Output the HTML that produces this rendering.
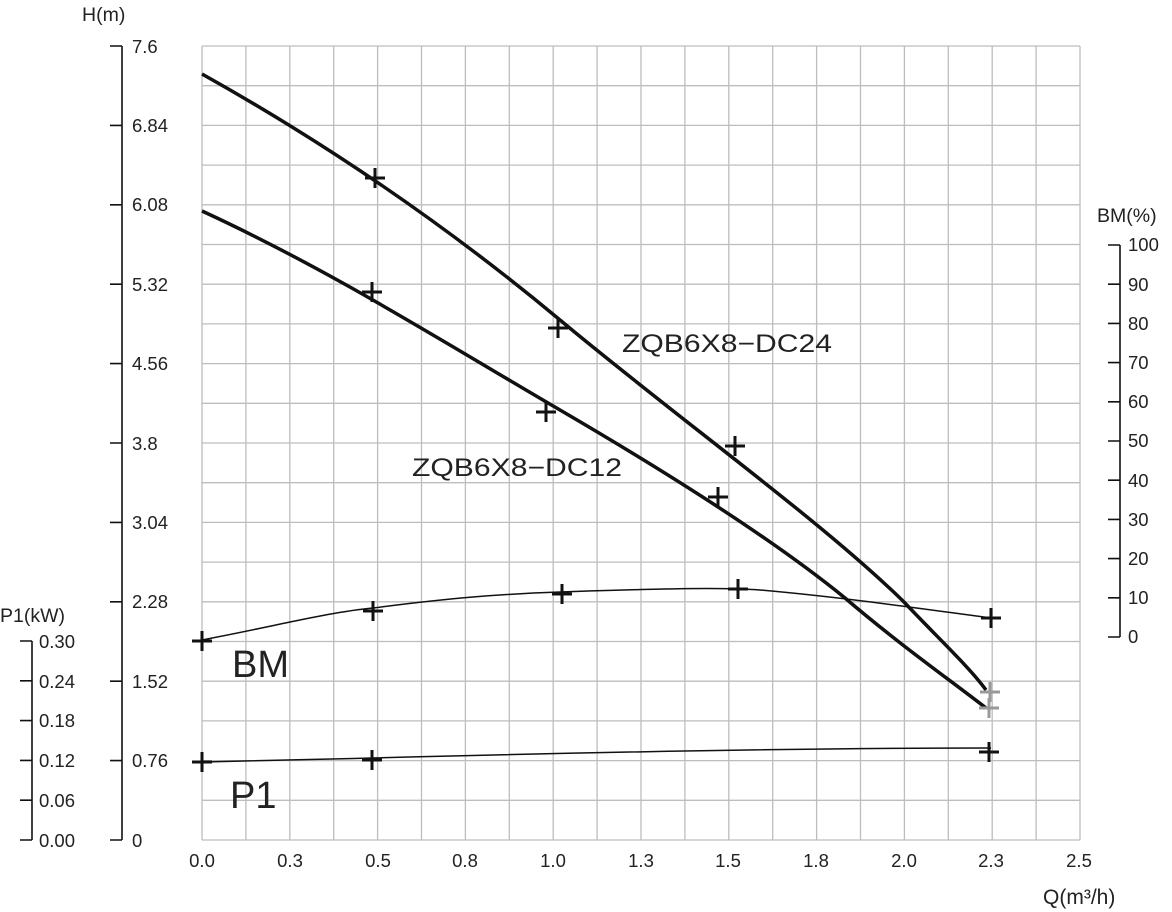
<!DOCTYPE html>
<html><head><meta charset="utf-8"><style>body{margin:0;background:#fff}svg{display:block}text{font-family:"Liberation Sans",sans-serif;fill:#222;font-size:18.5px}</style></head><body>
<svg width="1172" height="912" viewBox="0 0 1172 912">
<g stroke="#bdbdbd" stroke-width="1.3">
<path d="M202 46V840M245.9 46V840M289.8 46V840M333.7 46V840M377.6 46V840M421.5 46V840M465.4 46V840M509.3 46V840M553.2 46V840M597.1 46V840M641 46V840M684.9 46V840M728.8 46V840M772.7 46V840M816.6 46V840M860.5 46V840M904.4 46V840M948.3 46V840M992.2 46V840M1036.1 46V840M1080 46V840"/>
<path d="M202 46H1080M202 85.7H1080M202 125.4H1080M202 165.1H1080M202 204.8H1080M202 244.5H1080M202 284.2H1080M202 323.9H1080M202 363.6H1080M202 403.3H1080M202 443H1080M202 482.7H1080M202 522.4H1080M202 562.1H1080M202 601.8H1080M202 641.5H1080M202 681.2H1080M202 720.9H1080M202 760.6H1080M202 800.3H1080M202 840H1080"/>
</g>
<g stroke="#111" stroke-width="1.6" fill="none">
<path d="M122 46V840"/>
<path d="M110 46H122M110 125.4H122M110 204.8H122M110 284.2H122M110 363.6H122M110 443H122M110 522.4H122M110 601.8H122M110 681.2H122M110 760.6H122M110 840H122"/>
<path d="M32 641V840"/>
<path d="M20 641H32M20 680.8H32M20 720.6H32M20 760.4H32M20 800.2H32M20 840H32"/>
<path d="M1120 245V637"/>
<path d="M1108 245H1120M1108 284.2H1120M1108 323.4H1120M1108 362.6H1120M1108 401.8H1120M1108 441H1120M1108 480.2H1120M1108 519.4H1120M1108 558.6H1120M1108 597.8H1120M1108 637H1120"/>
</g>
<text x="132" y="53">7.6</text><text x="132" y="132">6.84</text><text x="132" y="211">6.08</text><text x="132" y="291">5.32</text><text x="132" y="370">4.56</text><text x="132" y="450">3.8</text><text x="132" y="529">3.04</text><text x="132" y="608">2.28</text><text x="132" y="688">1.52</text><text x="132" y="767">0.76</text><text x="132" y="847">0</text>
<text x="82" y="21" style="font-size:19.5px">H(m)</text>
<text x="0" y="622" style="font-size:19.5px">P1(kW)</text>
<text x="39" y="648">0.30</text><text x="39" y="688">0.24</text><text x="39" y="727">0.18</text><text x="39" y="767">0.12</text><text x="39" y="807">0.06</text><text x="39" y="847">0.00</text>
<text x="1097" y="222" style="font-size:19.5px">BM(%)</text>
<text x="1128" y="251">100</text><text x="1128" y="291">90</text><text x="1128" y="330">80</text><text x="1128" y="369">70</text><text x="1128" y="408">60</text><text x="1128" y="447">50</text><text x="1128" y="487">40</text><text x="1128" y="526">30</text><text x="1128" y="565">20</text><text x="1128" y="604">10</text><text x="1128" y="643">0</text>
<g text-anchor="middle"><text x="202" y="867">0.0</text><text x="290" y="867">0.3</text><text x="378" y="867">0.5</text><text x="465" y="867">0.8</text><text x="553" y="867">1.0</text><text x="641" y="867">1.3</text><text x="728" y="867">1.5</text><text x="816" y="867">1.8</text><text x="904" y="867">2.0</text><text x="991" y="867">2.3</text><text x="1079" y="867">2.5</text></g>
<text x="1043" y="904" style="font-size:21px">Q(m³/h)</text>
<text x="622" y="352" style="font-size:25px" textLength="210" lengthAdjust="spacingAndGlyphs">ZQB6X8−DC24</text>
<text x="412" y="476" style="font-size:25px" textLength="210" lengthAdjust="spacingAndGlyphs">ZQB6X8−DC12</text>
<text x="232" y="677" style="font-size:38px">BM</text>
<text x="230" y="808" style="font-size:38px">P1</text>
<g fill="none" stroke="#111">
<path stroke-width="3.5" d="M202 74 C320 140 440 220 560 320 C680 420 820 520 903 601 C940 640 970 668 986 690"/>
<path stroke-width="3.5" d="M202 211 C330 270 440 340 560 410 C680 480 780 545 845 598 C900 645 950 680 986 708"/>
<path stroke-width="1.5" d="M202 640 C280 625 330 612 373 608 C450 598 500 594 560 592 C650 589 720 587 760 590 C850 598 930 610 991 618"/>
<path stroke-width="1.5" d="M202 762 C300 760 330 759 372 758 C600 752 800 748 991 748"/>
</g>
<g stroke="#111" stroke-width="3">
<path d="M192 641h20M202 631v20 M363 611h20M373 601v20 M552 594h20M562 584v20 M728 589h20M738 579v20 M981 618h20M991 608v20 M192 762h20M202 752v20 M362 760h20M372 750v20 M979 752h20M989 742v20 M365 178h20M375 168v20 M362 292h20M372 282v20 M548 328h20M558 318v20 M536 412h20M546 402v20 M725 446h20M735 436v20 M708 497h20M718 487v20"/>
</g>
<g stroke="#999" stroke-width="3"><path d="M980 692h20M990 682v20M979 708h20M989 698v20"/></g>
</svg>
</body></html>
